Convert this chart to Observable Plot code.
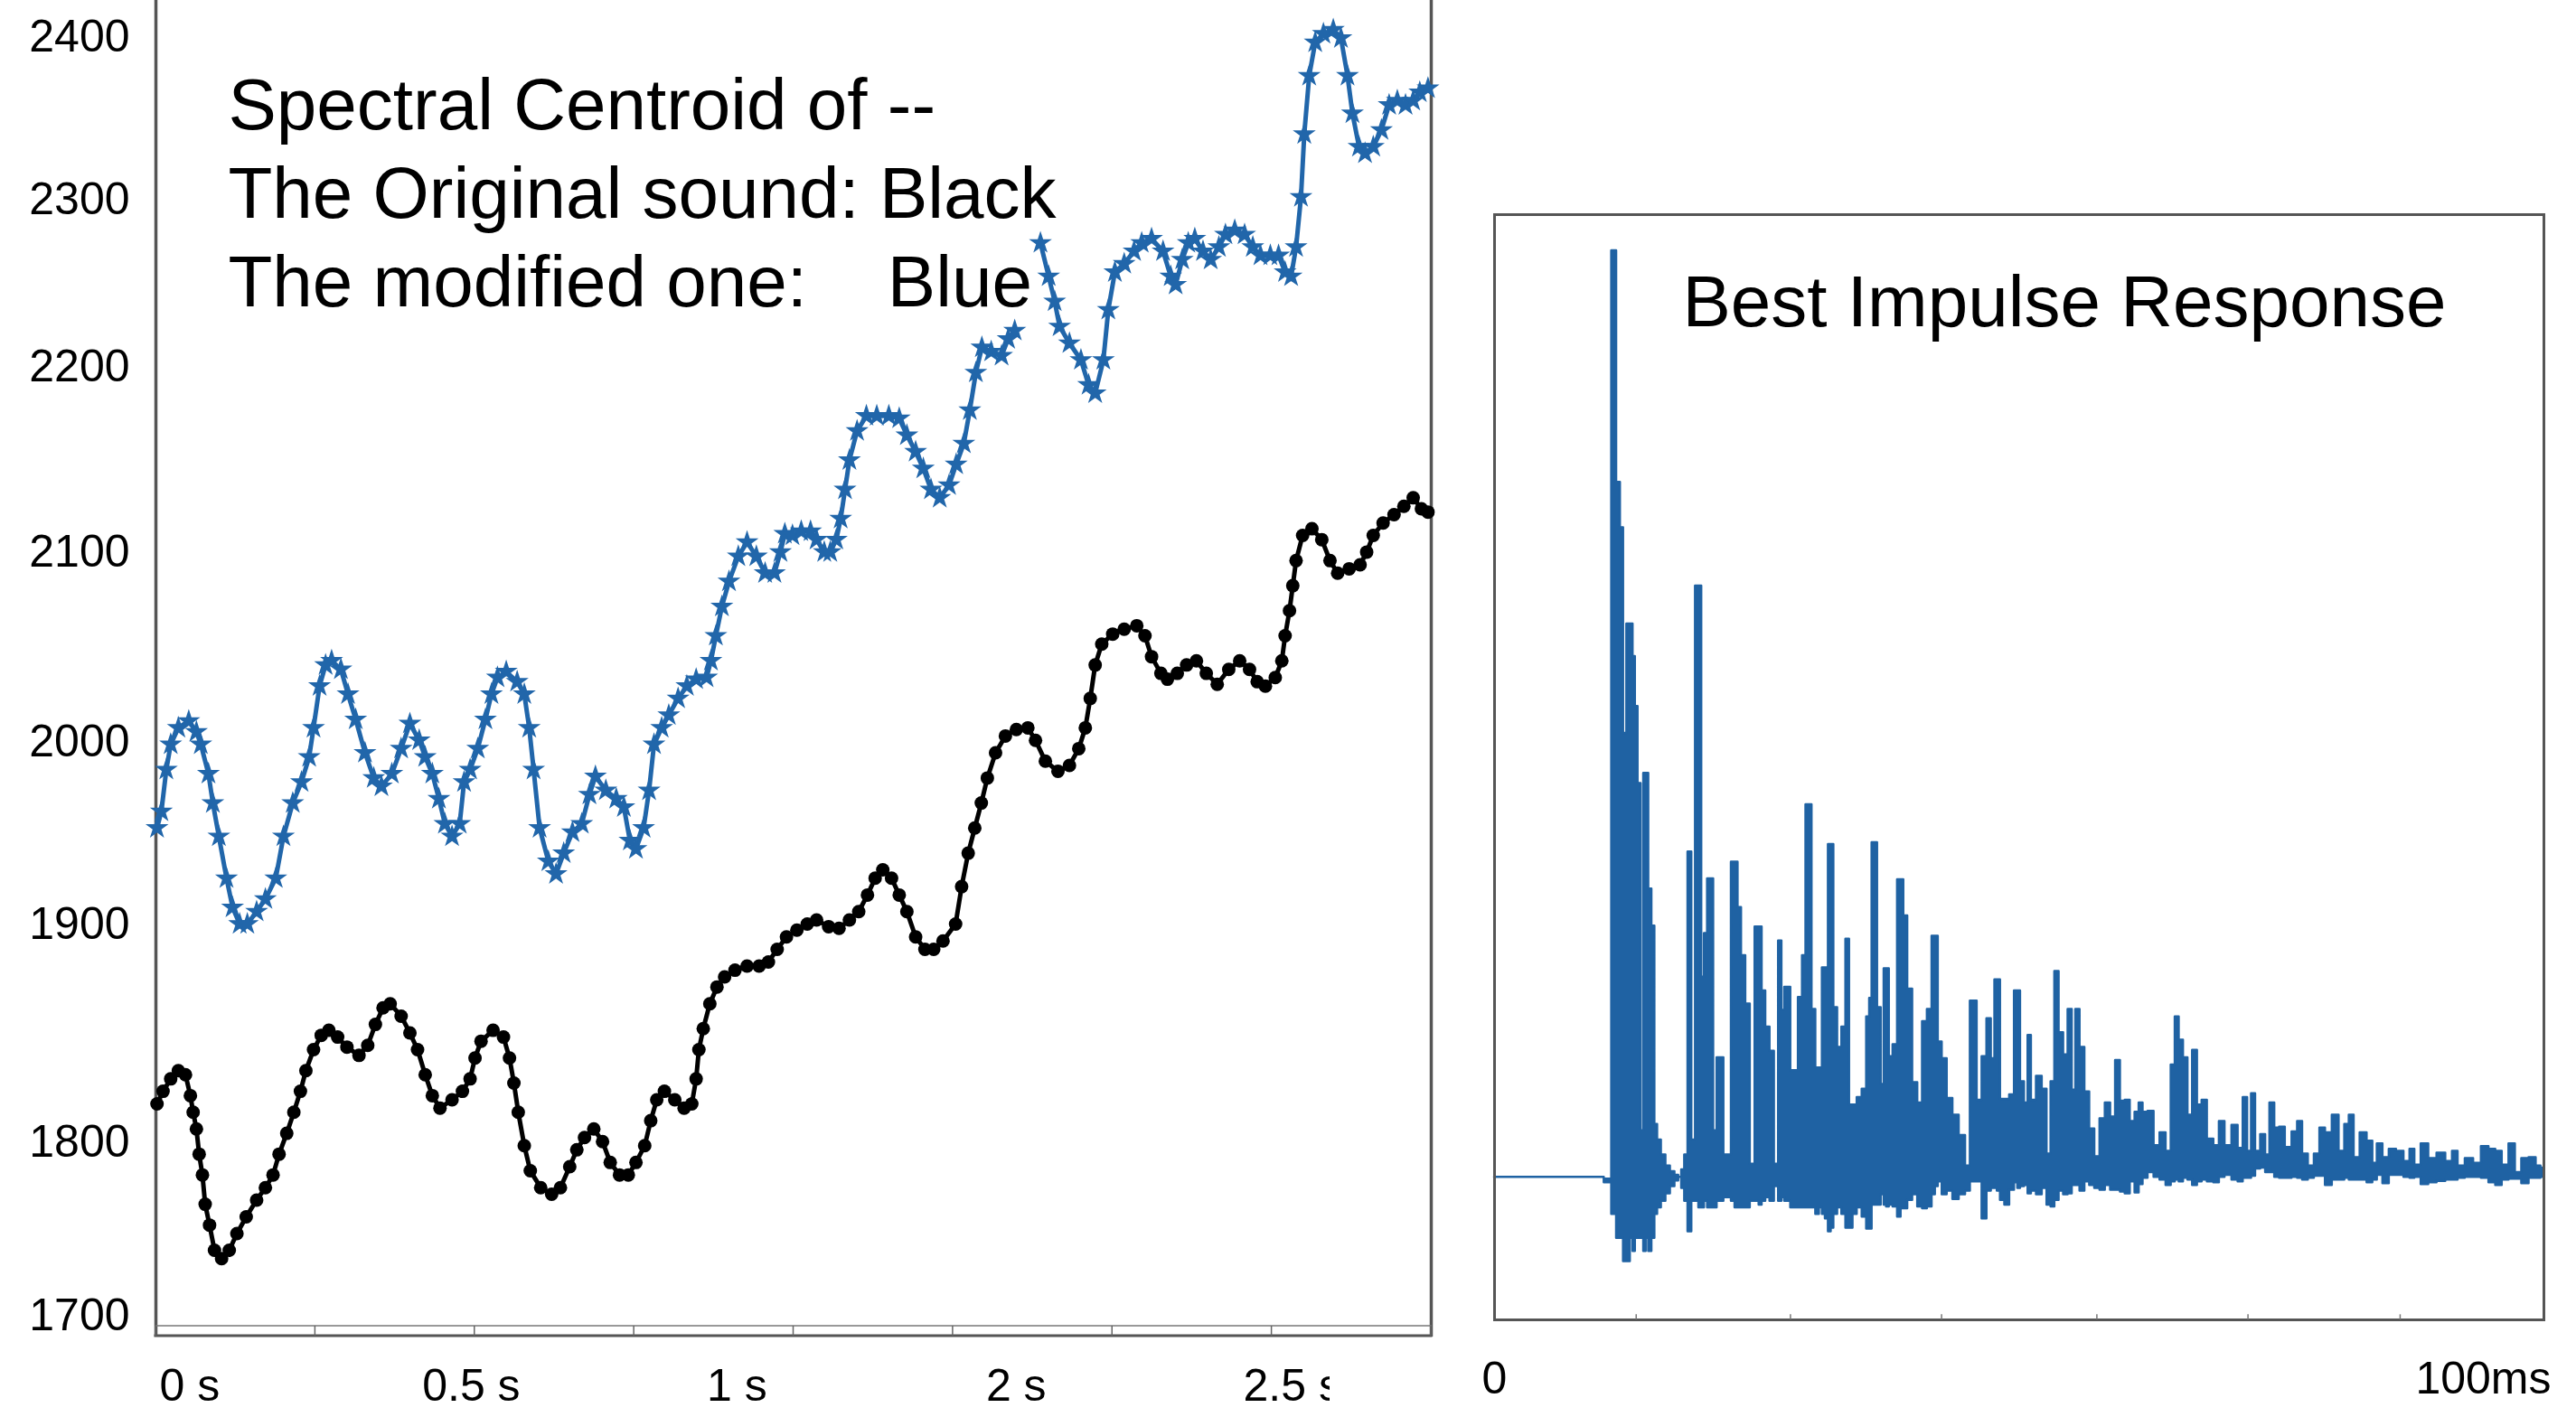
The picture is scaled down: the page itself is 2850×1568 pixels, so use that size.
<!DOCTYPE html>
<html><head><meta charset="utf-8">
<script src="https://cdn.jsdelivr.net/npm/d3@7"></script>
<script src="https://cdn.jsdelivr.net/npm/@observablehq/plot@0.6"></script>
<style>
html,body{margin:0;padding:0;background:#fff;}
#wrap{position:relative;width:2850px;height:1568px;overflow:hidden;background:#fff;}
#left{position:absolute;left:0;top:0;}
#right{position:absolute;left:1600px;top:0;}
</style></head>
<body><div id="wrap"><div id="left"></div><div id="right"></div></div>
<script>
// ---------- Left panel data: spectral centroid (Hz) over time (s) ----------
const yTicks = [1700, 1800, 1900, 2000, 2100, 2200, 2300, 2400];
const xTickLabels = ["0 s", "0.5 s", "1 s", "2 s", "2.5 s"];
const xLabelAt = [0, 0.48, 1, 1.51, 1.98];

const blueTime = [0.002,0.010,0.019,0.027,0.041,0.060,0.074,0.082,0.096,0.104,0.115,0.129,0.140,0.153,0.167,0.184,0.200,0.219,0.233,0.250,0.266,0.280,0.288,0.299,0.310,0.321,0.338,0.351,0.365,0.382,0.398,0.412,0.431,0.448,0.464,0.481,0.492,0.505,0.517,0.528,0.541,0.555,0.563,0.574,0.588,0.602,0.613,0.624,0.640,0.660,0.673,0.682,0.690,0.701,
0.717,0.731,0.745,0.761,0.778,0.792,0.803,0.822,0.841,0.855,0.866,0.877,0.891,0.901,0.910,0.924,0.937,0.954,0.970,0.987,1.006,1.014,1.023,1.034,1.047,1.064,1.080,1.097,1.113,1.130,1.141,1.149,1.163,1.179,1.196,1.207,1.221,1.232,1.243,1.251,1.259,1.267,1.281,1.298,1.317,1.339,1.358,1.372,1.388,1.402,1.416,1.432,1.449,1.462,1.476,1.487,1.498,1.509,1.526,
1.545,1.557,1.569,1.593,1.616,1.631,1.642,1.651,1.669,1.690,1.704,1.716,1.731,1.740,1.752,1.769,1.787,1.801,1.819,1.840,1.854,1.863,1.875,1.886,1.898,1.913,1.927,1.942,1.954,1.971,1.989,2.004,2.018,2.036,2.051,2.063,2.074,2.083,2.092,2.098,2.107,2.118,2.133,2.151,2.165,2.177,2.186,2.198,2.209,2.224,2.239,2.253,2.268,2.283,2.297,2.309,2.324];
const blueValue = [1952.6,1961.7,1984.6,1998.4,2007.2,2010.8,2005,1998.4,1982.3,1966.3,1948,1925.1,1909.1,1900,1900,1906.8,1913.7,1925.1,1948,1966.3,1977.8,1991.5,2007.2,2029.2,2040.3,2042.5,2038,2024.9,2011.6,1993.8,1980,1975.4,1982.3,1996.1,2009.4,2000.6,1991.5,1982.3,1968.6,1954.9,1948,1954.9,1977.8,1984.6,1996.1,2011.6,2024.9,2033.7,2036.8,2031.5,2024.9,2007.2,1984.6,1952.6,
1934.3,1927.4,1938.8,1950.3,1954.9,1970.9,1980.9,1973.2,1968.6,1964,1945.7,1941.1,1952.6,1973.2,1998.4,2007.2,2013.9,2022.7,2029.2,2032.8,2033.7,2042.5,2055.7,2071.1,2084.3,2097.5,2105.2,2097.5,2088.7,2088.7,2099.8,2109.7,2108.8,2111,2111,2106.5,2099.8,2099.8,2106.5,2117.8,2133.6,2149.4,2165.2,2173.3,2173.3,2173.3,2172,2162.9,2153.9,2144.9,2133.6,2129.1,2135.9,2147.1,2158.4,2176.4,2196.7,2211.4,2208.9,
2206.4,2216.4,2221.4,NaN,2273.9,2253.9,2238.9,2223.9,2213.9,2203.9,2190,2185.5,2203.9,2233.9,2256.4,2261.4,2268.9,2273.9,2276.4,2268.9,2253.9,2248.9,2263.9,2273.9,2276.4,2268.9,2263.9,2271.4,2278.9,2281.4,2278.9,2271.4,2266.4,2266.4,2266.4,2256.4,2253.9,2271.4,2301.4,2340,2375.9,2396.5,2401.7,2404.2,2399.1,2375.9,2352.8,2332.3,2328.2,2332.3,2342.6,2358,2360.6,2358,2360.6,2365.7,2368.3];

const blackTime = [0.002,0.013,0.027,0.041,0.054,0.063,0.068,0.074,0.079,0.085,0.090,0.098,0.107,0.120,0.134,0.148,0.165,0.184,0.200,0.214,0.225,0.239,0.252,0.264,0.274,0.288,0.302,0.316,0.332,0.349,0.371,0.387,0.401,0.415,0.428,0.448,0.464,0.478,0.492,0.505,0.519,0.541,0.560,0.574,0.583,0.594,0.616,0.635,0.646,0.654,0.662,0.673,0.684,0.703,
0.723,0.739,0.756,0.769,0.783,0.800,0.816,0.830,0.847,0.863,0.877,0.893,0.904,0.915,0.929,0.948,0.965,0.979,0.987,0.992,1.000,1.012,1.025,1.039,1.058,1.080,1.102,1.119,1.135,1.152,1.171,1.190,1.207,1.229,1.248,1.267,1.284,1.300,1.314,1.328,1.344,1.358,1.372,1.388,1.405,1.421,1.438,
1.461,1.472,1.484,1.496,1.508,1.519,1.534,1.552,1.572,1.593,1.607,1.625,1.648,1.669,1.686,1.698,1.707,1.716,1.728,1.748,1.769,1.792,1.807,1.819,1.836,1.848,1.866,1.883,1.901,1.919,1.939,1.960,1.980,1.998,2.012,2.027,2.045,2.057,2.063,2.071,2.077,2.083,2.095,2.112,2.130,2.145,2.159,2.180,2.200,2.212,2.224,2.242,2.262,2.280,2.297,2.312,2.324];
const blackValue = [1817.4,1823.2,1828.9,1832.7,1830.8,1821.2,1813.6,1805.9,1792.9,1780.9,1764,1752,1737.5,1732.7,1737.5,1747.1,1756.8,1766.4,1773.6,1780.9,1792.9,1803.9,1813.6,1823.2,1832.7,1842.3,1848.9,1851.2,1848.1,1843.5,1839.7,1844.3,1853.9,1861.5,1863.4,1857.7,1850,1842.3,1830.8,1821.2,1815.5,1819.3,1823.2,1828.9,1838.5,1846.2,1851.2,1848.1,1838.5,1827,1813.6,1797.8,1783.3,1773.6,
1769.8,1773.6,1785.7,1795.4,1802,1805.9,1800.1,1788.1,1780.9,1780.9,1788.1,1797.8,1809.7,1819.3,1823.2,1819.3,1815.5,1817.4,1828.9,1842.3,1852,1863.4,1871.1,1875.7,1878.8,1880.7,1880.7,1882.6,1888.4,1894.1,1897.2,1900,1902.2,1898.8,1898,1902.2,1906.8,1915.9,1925.1,1929.7,1925.1,1915.9,1906.8,1894.1,1888.4,1888.4,1892.2,
1900,1920.5,1938.8,1952.6,1966.3,1980,1993.8,2002.9,2006.3,2007.2,2000.6,1989.2,1983.7,1986.9,1996.1,2007.2,2022.7,2040.3,2051.3,2056.6,2059.2,2061,2055.7,2044.7,2035.9,2032.8,2035.9,2040.3,2042.5,2035.9,2030.1,2038,2042.5,2038,2031.5,2029.2,2033.7,2042.5,2055.7,2068.9,2082.1,2095.3,2108.8,2112.4,2106.5,2095.3,2088.7,2091,2093.1,2099.8,2108.8,2115.5,2120,2124.5,2129.1,2123.2,2121.4];

const titleLines = ["Spectral Centroid of --", "The Original sound: Black", "The modified one:\u00a0\u00a0\u00a0\u00a0Blue"];

// ---------- Right panel data: impulse response (ms, relative amplitude) ----------
const irTime = [0,10.0,10.9,11.43,11.83,12.15,12.43,12.78,13.09,13.30,13.53,13.81,14.10,14.33,14.56,14.82,15.16,15.39,15.68,16.11,16.54,16.97,17.40,17.69,17.98,18.26,18.61,18.98,19.32,19.61,19.87,20.13,20.47,20.76,20.99,21.42,21.71,21.99,22.37,22.77,23.06,23.34,23.72,24.15,24.58,25.07,25.35,25.64,26.04,26.45,26.88,27.25,27.51,27.79,28.08,28.37,28.74,29.17,29.52,29.83,30.09,30.41,30.81,31.10,31.38,31.67,31.96,32.19,32.47,32.91,33.28,33.68,33.97,34.34,34.77,
35.29,35.63,35.86,36.09,36.32,36.67,37.01,37.24,37.47,37.76,38.19,38.62,38.85,39.14,39.60,40.08,40.57,41.00,41.49,41.89,42.12,42.44,42.87,43.39,43.96,44.59,45.17,45.51,45.77,46.20,46.72,47.12,47.55,47.81,48.01,48.41,48.84,49.33,49.76,49.96,50.28,50.71,50.97,51.34,51.94,52.43,52.86,53.20,53.58,54.01,54.44,54.87,55.22,55.56,56.02,56.48,56.94,57.45,57.94,58.46,58.95,59.41,59.87,
60.32,60.83,61.24,61.61,61.98,62.56,63.13,63.70,64.28,64.68,65.05,65.43,65.86,66.29,66.75,67.21,67.64,68.21,68.87,69.27,69.94,70.60,71.11,71.57,71.95,72.32,72.72,73.29,73.67,74.10,74.59,75.02,75.68,76.31,76.74,77.26,77.83,78.41,78.89,79.47,80.19,80.76,81.28,81.62,82.20,82.77,
83.52,83.86,84.38,84.93,85.59,86.30,87.02,87.45,87.94,88.66,89.38,90.24,91.04,91.53,92.10,92.91,93.68,94.40,95.12,95.69,96.35,96.99,97.56,98.22,98.94,99.57,99.85];
const irHigh = [0,0,-0.2,100,75,70.1,47.9,59.7,59.7,56.2,50.8,42.5,5,43.6,43.6,31.1,27.1,5.7,4,2.4,1.2,0.6,0.2,0,0.8,2.4,35.1,4,63.8,63.8,21.6,26.3,32.2,32.2,5,12.9,12.9,2.4,2.4,34,34,29.1,23.9,18.7,1.4,27,27,20.1,16.2,13.6,1.4,25.5,18,20.5,20.5,11.5,11.5,19.4,23.9,40.2,40.2,18.1,11.8,11.8,22.6,22.6,35.9,35.9,18.3,14,16.2,25.7,7.8,7.8,8.6,
9.5,17.3,19.3,36.1,36.1,18.3,10,22.5,22.5,13,14.3,32.1,32.1,28.2,20.3,10.2,8,16.8,18.1,26,26,14.6,12.8,8.5,6.7,4.5,1.2,19,19,8.3,13,17.1,12.8,21.3,21.3,8.4,8.4,8.9,20.1,20.1,10.3,8,15.3,8.3,10.9,9.5,2.5,10.3,22.2,15.6,13.2,18.1,9.4,18.1,14,9.2,5.2,2.2,6.3,8,6.5,12.6,8.2,
8.3,6,7,8,7,7.1,3.4,4.8,2.8,12.1,17.3,14.8,12.9,6.7,13.7,7.8,8.3,4.1,3.4,6,3.4,5.6,3.1,8.6,2.8,9,2.8,4.6,2.4,8,5.3,5.4,3.2,4.9,6,2.5,1.2,2.5,5.3,4.8,6.7,2.8,5.7,6.7,2.1,4.8,
3.9,1.5,3.6,2.1,3,2.8,1.7,3,1.3,3.6,2,2.6,1.7,2.8,1.2,2,1.5,3.3,3,2.8,1.3,3.6,0.5,2,2.1,1.2,1.0];
const irLow = [0,0,-0.6,-4,-6.6,-6.6,-9.1,-9.1,-6.6,-8,-6.6,-6.6,-6.6,-8,-6.6,-8,-6.6,-4,-3.3,-2.6,-1.8,-1,-0.4,0,-1.2,-2.6,-5.9,-2.6,-2.6,-3.3,-3.3,-2.6,-3.3,-3.3,-3.3,-2.6,-2.6,-2.2,-2.2,-2.6,-3.3,-3.3,-3.3,-3.3,-2.6,-2.6,-3,-2.6,-2.2,-2.6,-1,-2.6,-2.2,-2.6,-2.6,-3.3,-3.3,-3.3,-3.3,-3.3,-3.3,-3.3,-4,-3.3,-4,-4.5,-5.9,-5.5,-4,-3.3,-4,-5.5,-5.5,-4,-3.3,
-4.3,-5.6,-5.6,-3,-3,-3,-1.9,-3,-3.2,-3,-3.2,-4.3,-3.4,-3.4,-2.5,-1.9,-3.2,-3.4,-3.2,-1.9,-1,-0.5,-1.9,-1.5,-2.4,-1.9,-1.5,-0.5,-0.5,-0.5,-4.5,-1.5,-1.2,-1.2,-1.5,-2.5,-3,-1.4,-0.6,-1.2,-1,-0.9,-1.8,-1.5,-1.9,-1.2,-3,-3.2,-2.5,-1.5,-1.9,-1.8,-0.9,-0.9,-1.5,-0.5,-0.9,-1.2,-1.4,-0.9,-1.4,-1.4,-1.6,
-1.8,-0.5,-1.7,-0.8,-0.1,0.5,0,-0.3,-0.9,-0.5,-0.3,-0.5,-0.1,-0.3,-0.9,-0.5,-0.3,-0.5,-0.6,0,0.2,-0.3,-0.5,-0.1,-0.1,0.1,0.9,1,0.5,0.5,0,-0.1,-0.1,0,-0.1,-0.3,-0.1,0.1,0.1,-0.9,-0.3,-0.3,-0.1,-0.3,-0.3,-0.3,
-0.6,-0.3,0.2,-0.7,0.2,0.2,0,-0.1,0,-0.8,-0.6,-0.45,-0.3,-0.3,-0.1,0,0,-0.1,-0.6,-0.9,-0.3,-0.2,-0.2,-0.7,-0.1,-0.1,0];
const irTicks = [13.5, 28.2, 42.6, 57.4, 71.8, 86.3];
const irLabelLeft = "0";
const irLabelRight = "100ms";
const irTitle = "Best Impulse Response";

// ---------- build ----------
const FONT = "'Liberation Sans', Arial, Helvetica, sans-serif";
const BLUE = "#2166aa";
const IRBLUE = "#1f62a3";
const AXIS = "#555";

const blueData = blueTime.map((t, i) => ({t, v: blueValue[i]}));
const blackData = blackTime.map((t, i) => ({t, v: blackValue[i]}));
const irData = irTime.map((t, i) => ({t, hi: irHigh[i], lo: irLow[i]}));

// left layout
const LW = 1600, LH = 1568, LML = 172, LMR = 17, LMT = 0, LMB = 89;
const xMax = 2.33;
// the y tick labels of the original sit at uneven heights: piecewise-linear placement between them
const yLabelRow = [1455, 1263, 1022, 820, 610, 405, 220, 40];
const yWarp = d3.scaleLinear().domain(yTicks).range(yLabelRow);

const left = Plot.plot({
  width: LW, height: LH,
  marginLeft: LML, marginRight: LMR, marginTop: LMT, marginBottom: LMB,
  style: {fontFamily: FONT, fontSize: "50px", color: "#000", background: "#fff"},
  x: {domain: [0, xMax], axis: null},
  y: {transform: v => yWarp(v), domain: [LH - LMB, LMT], axis: null},
  marks: [
    Plot.text(yTicks, {y: d => d, text: d => String(d), frameAnchor: "left", textAnchor: "end", dx: -29, fontSize: 50, fill: "#000"}),
    Plot.ruleX([0, xMax], {stroke: AXIS, strokeWidth: 3.5}),
    Plot.line(blackData, {x: "t", y: "v", stroke: "#000", strokeWidth: 5}),
    Plot.dot(blackData, {x: "t", y: "v", r: 7.5, fill: "#000"}),
    Plot.line(blueData, {x: "t", y: "v", stroke: BLUE, strokeWidth: 5}),
    Plot.dot(blueData, {x: "t", y: "v", r: 8, symbol: "star", fill: BLUE}),
    Plot.text([titleLines.join("\n")], {frameAnchor: "top-left", textAnchor: "start", lineAnchor: "bottom", dx: 80, dy: 338, fontSize: 80, lineHeight: 1.219, fill: "#000"}),
    Plot.text(xLabelAt, {x: d => d, text: (d, i) => xTickLabels[i], frameAnchor: "bottom", textAnchor: "start", lineAnchor: "bottom", dy: 70, dx: 4, fontSize: 50, fill: "#000"})
  ]
});
document.getElementById("left").appendChild(left);

// decorate the bottom ruler band and clip the last x label
(function () {
  const svg = d3.select(left);
  const sx = left.scale("x");
  const x0 = sx.apply(0), x1 = sx.apply(xMax);
  const yb = LH - LMB;          // frame bottom
  const yt = yb - 12;           // top of ruler band
  const g = svg.append("g");
  g.append("line").attr("x1", x0).attr("x2", x1 + 1).attr("y1", yt).attr("y2", yt).attr("stroke", "#777").attr("stroke-width", 1.5);
  g.append("line").attr("x1", x0 - 1.5).attr("x2", x1 + 1.5).attr("y1", yb - 1).attr("y2", yb - 1).attr("stroke", AXIS).attr("stroke-width", 3);
  for (let k = 0; k <= 8; k++) {
    const xx = x0 + (x1 - x0) * k / 8;
    g.append("line").attr("x1", xx).attr("x2", xx).attr("y1", yt).attr("y2", yb - 1).attr("stroke", "#666").attr("stroke-width", 1.5);
  }
  const defs = svg.append("defs");
  defs.append("clipPath").attr("id", "lblclip").append("rect").attr("x", 0).attr("y", 0).attr("width", 1471).attr("height", LH);
  const lbl = svg.selectAll("text").filter(function () { return this.textContent === "2.5 s"; }).node();
  if (lbl) {
    const parent = lbl.parentNode;
    const wrap = document.createElementNS("http://www.w3.org/2000/svg", "g");
    wrap.setAttribute("clip-path", "url(#lblclip)");
    parent.parentNode.insertBefore(wrap, parent);
    wrap.appendChild(parent);
  }
})();

// right layout
const RW = 1250, RH = 1568;
const yLo = -15.4, yHi = 103.9;
const right = Plot.plot({
  width: RW, height: RH,
  marginLeft: 53, marginRight: 36, marginTop: 237, marginBottom: 108,
  style: {fontFamily: FONT, fontSize: "50px", color: "#000", background: "#fff"},
  x: {domain: [0, 100], axis: null},
  y: {domain: [yLo, yHi], axis: null},
  marks: [
    Plot.areaY(irData, {x: "t", y1: "lo", y2: "hi", curve: "step", fill: IRBLUE, stroke: IRBLUE, strokeWidth: 2.5}),
    Plot.frame({stroke: AXIS, strokeWidth: 3}),
    Plot.ruleX(irTicks, {x: d => d, y1: yLo, y2: yLo + 0.55, stroke: "#777", strokeWidth: 1.5}),
    Plot.text([irTitle], {frameAnchor: "top-left", textAnchor: "start", lineAnchor: "bottom", dx: 208, dy: 123, fontSize: 80, fill: "#000"}),
    Plot.text([0], {x: d => d, text: () => irLabelLeft, frameAnchor: "bottom", textAnchor: "middle", lineAnchor: "bottom", dy: 81, fontSize: 50, fill: "#000"}),
    Plot.text([100], {x: d => d, text: () => irLabelRight, frameAnchor: "bottom", textAnchor: "end", lineAnchor: "bottom", dy: 81, dx: 8, fontSize: 50, fill: "#000"})
  ]
});
document.getElementById("right").appendChild(right);
</script>
</body></html>
